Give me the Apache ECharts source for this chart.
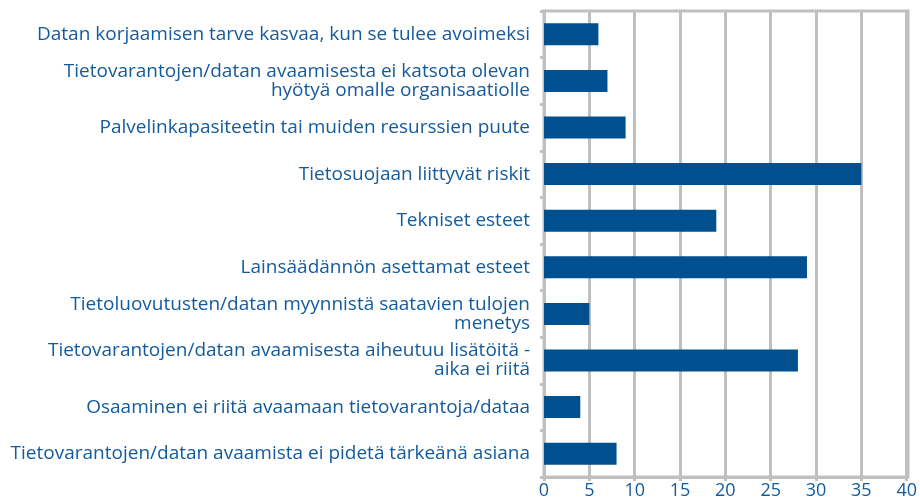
<!DOCTYPE html>
<html>
<head>
<meta charset="utf-8">
<script src="https://cdn.jsdelivr.net/npm/echarts@6/dist/echarts.min.js"></script>
<style>
  html, body { margin: 0; padding: 0; background: #fff; }
  #chart { width: 920px; height: 503px; }
</style>
</head>
<body>
<div id="chart"></div>
<script>
// categories top to bottom
const categories = [
  'Datan korjaamisen tarve kasvaa, kun se tulee avoimeksi',
  'Tietovarantojen/datan avaamisesta ei katsota olevan\nhyötyä omalle organisaatiolle',
  'Palvelinkapasiteetin tai muiden resurssien puute',
  'Tietosuojaan liittyvät riskit',
  'Tekniset esteet',
  'Lainsäädännön asettamat esteet',
  'Tietoluovutusten/datan myynnistä saatavien tulojen\nmenetys',
  'Tietovarantojen/datan avaamisesta aiheutuu lisätöitä -\naika ei riitä',
  'Osaaminen ei riitä avaamaan tietovarantoja/dataa',
  'Tietovarantojen/datan avaamista ei pidetä tärkeänä asiana'
]
const values = [6, 7, 9, 35, 19, 29, 5, 28, 4, 8]
const xTicks = { min: 0, max: 40, interval: 5 }

const textColor = '#135b9c'
const gridColor = '#c0c0c0'

var myChart = echarts.init(document.getElementById('chart'))
myChart.setOption({
  animation: false,
  grid: {
    left: 544,
    right: 12,
    top: 11,
    bottom: 26,
    containLabel: false
  },
  xAxis: {
    type: 'value',
    min: xTicks.min,
    max: xTicks.max,
    interval: xTicks.interval,
    axisLine: { show: true, lineStyle: { color: gridColor, width: 3 } },
    axisTick: { show: true, length: 4, lineStyle: { color: gridColor, width: 3 } },
    axisLabel: {
      color: textColor,
      fontFamily: 'Open Sans',
      fontSize: 18,
      margin: 5
    },
    splitLine: { show: true, lineStyle: { color: gridColor, width: 3 } }
  },
  yAxis: {
    type: 'category',
    data: categories,
    inverse: true,
    axisLine: { show: true, lineStyle: { color: gridColor, width: 3 } },
    axisTick: { show: true, length: 4, lineStyle: { color: gridColor, width: 3 } },
    axisLabel: {
      color: textColor,
      fontFamily: 'Open Sans',
      fontSize: 19,
      lineHeight: 19,
      margin: 14,
      align: 'right'
    },
    splitLine: { show: false }
  },
  series: [
    {
      type: 'bar',
      data: values,
      barWidth: 22,
      itemStyle: { color: '#00508f' }
    }
  ]
})
// frame on top and right like the original plot area
myChart.setOption({
  graphic: [{
    type: 'rect',
    shape: { x: 544, y: 11, width: 364, height: 466 },
    style: { fill: 'none', stroke: gridColor, lineWidth: 3 },
    silent: true,
    z: -1
  }]
})
</script>
</body>
</html>
